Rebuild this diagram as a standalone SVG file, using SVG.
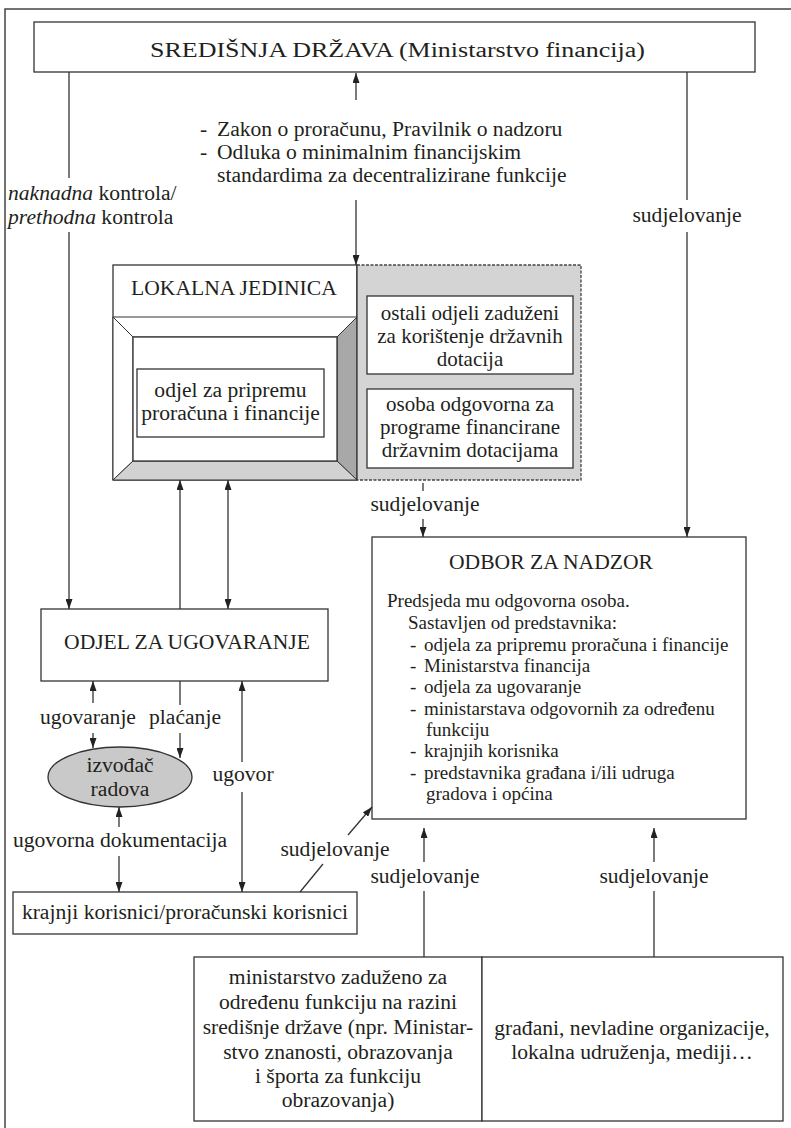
<svg xmlns="http://www.w3.org/2000/svg" width="791" height="1128" viewBox="0 0 791 1128">
<defs>
<style>
text{font-family:"Liberation Serif","Times New Roman",serif;fill:#231f20;font-size:21.6px}
.c{text-anchor:middle}
.box{fill:#fff;stroke:#333;stroke-width:1.3}
.ln{fill:none;stroke:#333;stroke-width:1.3}
.sm{font-size:19px}
.pn{font-size:21px}
.it{font-style:italic}
</style>
<marker id="ah" viewBox="0 0 10 7" refX="10" refY="3.5" markerWidth="10" markerHeight="7" markerUnits="userSpaceOnUse" orient="auto-start-reverse">
<path d="M0,0 L10,3.5 L0,7 z" fill="#222"/>
</marker>
</defs>
<rect width="791" height="1128" fill="#fff"/>
<path d="M5,1128 L5,9 L791,9" fill="none" stroke="#444" stroke-width="1.5"/>

<g id="srediSnja-drzava">
<rect class="box" x="34" y="22" width="721" height="50"/>
<text x="150" y="57" font-size="27" textLength="495" lengthAdjust="spacingAndGlyphs">SREDIŠNJA DRŽAVA (Ministarstvo financija)</text>
</g>

<g id="zakoni">
<text x="200" y="136">-</text><text x="217" y="136">Zakon o proračunu, Pravilnik o nadzoru</text>
<text x="200" y="159">-</text><text x="217" y="159">Odluka o minimalnim financijskim</text>
<text x="217" y="182">standardima za decentralizirane funkcije</text>
</g>

<g id="lokalna-jedinica">
<rect class="box" x="113" y="265" width="244" height="215"/>
<text x="131" y="295" font-size="20.5">LOKALNA JEDINICA</text>
<polygon points="113,317 357,317 337,337 133,337" fill="#fff" stroke="#333" stroke-width="1"/>
<polygon points="113,317 133,337 133,461 113,480" fill="#fff" stroke="#333" stroke-width="1"/>
<polygon points="357,317 357,480 337,461 337,337" fill="#a8a8a8" stroke="#333" stroke-width="1"/>
<polygon points="113,480 357,480 337,461 133,461" fill="#d2d2d2" stroke="#333" stroke-width="1"/>
<rect class="box" x="133" y="337" width="204" height="124" stroke-width="1"/>
<rect class="box" x="137" y="369" width="187" height="68"/>
<text class="c" x="230.5" y="397">odjel za pripremu</text>
<text class="c" x="230.5" y="420">proračuna i financije</text>
</g>

<g id="ostali-odjeli-panel">
<rect x="357" y="265" width="224" height="215" fill="#d4d4d4"/>
<path d="M357,265 L581,265 L581,480 L357,480" fill="none" stroke="#444" stroke-width="1.3" stroke-dasharray="3 1.5"/>
<line x1="357" y1="265" x2="357" y2="480" stroke="#333" stroke-width="1.3"/>
<rect class="box" x="367" y="296" width="206" height="78"/>
<text class="c pn" x="470" y="320">ostali odjeli zaduženi</text>
<text class="c pn" x="470" y="343">za korištenje državnih</text>
<text class="c pn" x="470" y="366">dotacija</text>
<rect class="box" x="367" y="389" width="206" height="79"/>
<text class="c pn" x="470" y="411">osoba odgovorna za</text>
<text class="c pn" x="470" y="434">programe financirane</text>
<text class="c pn" x="470" y="457">državnim dotacijama</text>
</g>

<g id="odjel-za-ugovaranje">
<rect class="box" x="41" y="609" width="287" height="72"/>
<text class="c" x="187" y="649" font-size="20.5">ODJEL ZA UGOVARANJE</text>
</g>

<g id="izvodac-radova">
<ellipse cx="120" cy="777" rx="72" ry="30" fill="#c9c9c9" stroke="#333" stroke-width="1.3"/>
<text class="c" x="120" y="772">izvođač</text>
<text class="c" x="120" y="796">radova</text>
</g>

<g id="krajnji-korisnici">
<rect class="box" x="13" y="892" width="344" height="42"/>
<text class="c" x="185" y="919">krajnji korisnici/proračunski korisnici</text>
</g>

<g id="odbor-za-nadzor">
<rect class="box" x="372" y="537" width="374" height="282"/>
<text class="c" x="551" y="569" font-size="21">ODBOR ZA NADZOR</text>
<text class="sm" x="387" y="607">Predsjeda mu odgovorna osoba.</text>
<text class="sm" x="408" y="629">Sastavljen od predstavnika:</text>
<text class="sm" x="410" y="651">-</text><text class="sm" x="424" y="651">odjela za pripremu proračuna i financije</text>
<text class="sm" x="410" y="672">-</text><text class="sm" x="424" y="672">Ministarstva financija</text>
<text class="sm" x="410" y="693">-</text><text class="sm" x="424" y="693">odjela za ugovaranje</text>
<text class="sm" x="410" y="715">-</text><text class="sm" x="424" y="715">ministarstava odgovornih za određenu</text>
<text class="sm" x="426" y="736">funkciju</text>
<text class="sm" x="410" y="757">-</text><text class="sm" x="424" y="757">krajnjih korisnika</text>
<text class="sm" x="410" y="779">-</text><text class="sm" x="424" y="779">predstavnika građana i/ili udruga</text>
<text class="sm" x="426" y="800">gradova i općina</text>
</g>

<g id="ministarstvo-funkcija">
<rect class="box" x="194" y="957" width="288" height="164"/>
<text class="c" x="338" y="984">ministarstvo zaduženo za</text>
<text class="c" x="338" y="1009">određenu funkciju na razini</text>
<text class="c" x="338" y="1034">središnje države (npr. Ministar-</text>
<text class="c" x="338" y="1059">stvo znanosti, obrazovanja</text>
<text class="c" x="338" y="1083">i športa za funkciju</text>
<text class="c" x="338" y="1107">obrazovanja)</text>
</g>

<g id="gradani">
<rect class="box" x="482" y="957" width="301" height="164"/>
<text class="c" x="632" y="1035">građani, nevladine organizacije,</text>
<text class="c" x="632" y="1059">lokalna udruženja, mediji…</text>
</g>

<g id="connectors">
<path class="ln" d="M356,100 L356,73" marker-end="url(#ah)"/>
<path class="ln" d="M356,200 L356,265" marker-end="url(#ah)"/>
<path class="ln" d="M69,72 L69,178"/>
<path class="ln" d="M69,232 L69,609" marker-end="url(#ah)"/>
<path class="ln" d="M687,72 L687,200"/>
<path class="ln" d="M687,232 L687,537" marker-end="url(#ah)"/>
<path class="ln" d="M180,609 L180,480" marker-end="url(#ah)"/>
<path class="ln" d="M228,480 L228,609" marker-start="url(#ah)" marker-end="url(#ah)"/>
<path class="ln" d="M93,703 L93,681" marker-end="url(#ah)"/>
<path class="ln" d="M93,733 L93,748" marker-end="url(#ah)"/>
<path class="ln" d="M180,681 L180,705"/>
<path class="ln" d="M180,733 L180,758" marker-end="url(#ah)"/>
<path class="ln" d="M119,827 L119,807" marker-end="url(#ah)"/>
<path class="ln" d="M119,856 L119,892" marker-end="url(#ah)"/>
<path class="ln" d="M242,762 L242,681" marker-end="url(#ah)"/>
<path class="ln" d="M242,792 L242,892" marker-end="url(#ah)"/>
<path class="ln" d="M300,892 L323,864"/>
<path class="ln" d="M348,835 L372,807" marker-end="url(#ah)"/>
<path class="ln" d="M423,483 L423,491"/>
<path class="ln" d="M423,519 L423,537" marker-end="url(#ah)"/>
<path class="ln" d="M424,957 L424,891"/>
<path class="ln" d="M424,862 L424,828" marker-end="url(#ah)"/>
<path class="ln" d="M654,957 L654,891"/>
<path class="ln" d="M654,862 L654,828" marker-end="url(#ah)"/>
<g id="connector-labels">
<text x="8" y="200"><tspan class="it">naknadna</tspan> kontrola/</text>
<text x="8" y="224"><tspan class="it">prethodna</tspan> kontrola</text>
<text class="c" x="687" y="222">sudjelovanje</text>
<text class="c" x="425" y="511">sudjelovanje</text>
<text class="c" x="88" y="724">ugovaranje</text>
<text class="c" x="185" y="724">plaćanje</text>
<text class="c" x="243" y="781">ugovor</text>
<text class="c" x="120" y="847">ugovorna dokumentacija</text>
<text class="c" x="335" y="856">sudjelovanje</text>
<text class="c" x="425" y="883">sudjelovanje</text>
<text class="c" x="654" y="883">sudjelovanje</text>
</g>
</g>
</svg>
